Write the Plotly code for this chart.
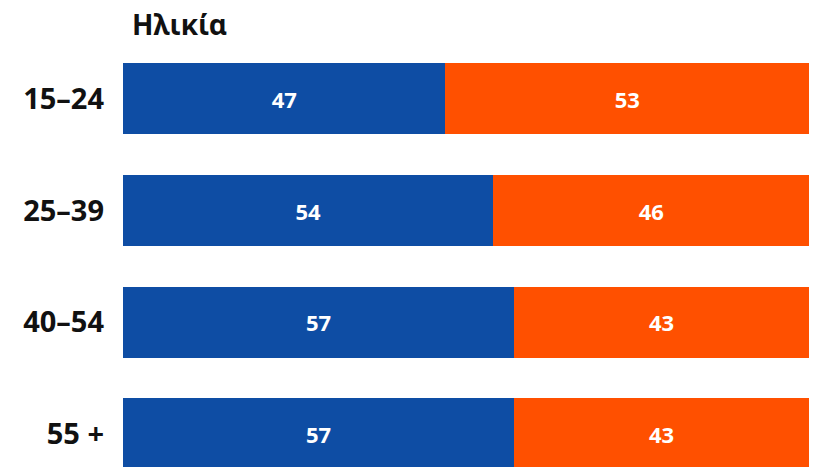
import plotly.graph_objects as go

categories = ["15–24", "25–39", "40–54", "55 +"]
series_a = [47, 54, 57, 57]
series_b = [53, 46, 43, 43]
title_text = "Ηλικία"

BLUE = "#0E4DA4"
ORANGE = "#FF5000"
FONT = "Noto Sans"

W, H = 817, 459  # page body has an 8px margin
PLOT_H = H - 35

fig = go.Figure()
for vals, color in [(series_a, BLUE), (series_b, ORANGE)]:
    fig.add_trace(go.Bar(
        y=categories, x=vals, orientation="h",
        marker=dict(color=color, line=dict(width=0)),
        text=vals, texttemplate="%{x}", textposition="inside",
        insidetextanchor="middle",
        textfont=dict(family=FONT, size=22, color="white", weight="bold"),
        hoverinfo="skip", showlegend=False,
    ))

fig.add_annotation(
    text=title_text, xref="paper", yref="paper",
    x=8/686, y=1 + 19/PLOT_H, xanchor="left", yanchor="middle",
    showarrow=False, borderpad=0,
    font=dict(family=FONT, size=28, color="#111111", weight="bold"),
)

fig.update_layout(
    barmode="stack",
    bargap=0.364,
    width=W, height=H,
    margin=dict(l=115, r=16, t=35, b=0),
    paper_bgcolor="white", plot_bgcolor="white",
    xaxis=dict(range=[0, 100], visible=False, fixedrange=True),
    yaxis=dict(categoryorder="array", categoryarray=categories,
               range=[3.296, -0.5], showgrid=False, zeroline=False,
               showline=False, ticks="", ticklabelstandoff=18,
               tickfont=dict(family=FONT, size=29, color="#111111", weight="bold")),
)

fig.write_html("out.html")
